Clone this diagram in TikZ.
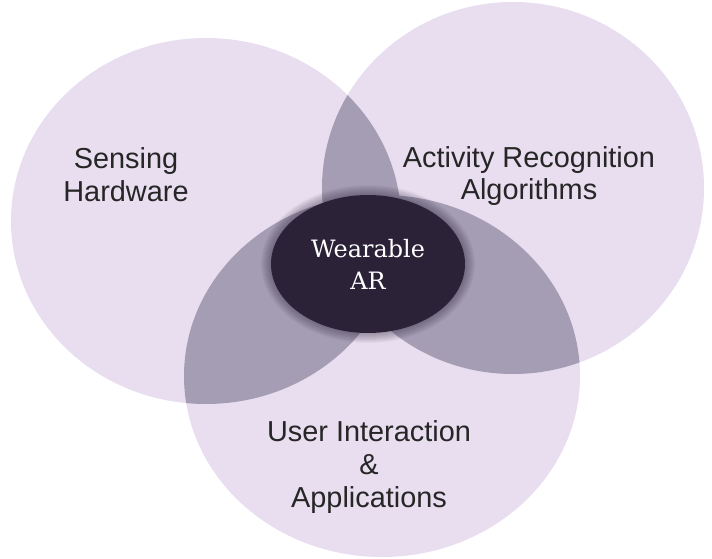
\documentclass[tikz,border=0pt]{standalone}
\usepackage{fontspec}
\setmainfont{Liberation Sans}
\newfontfamily\slabfont{DejaVu Serif}
\usepackage{tikz}
\usetikzlibrary{shapes.geometric}
\definecolor{lightlav}{HTML}{E8DEEF}
\definecolor{midlav}{HTML}{A49DB3}
\definecolor{darkplum}{HTML}{2B2238}

\tikzset{
  label/.style={font=\fontsize{29}{33}\selectfont, align=center, text=black!85},
  core/.style={ellipse, fill=darkplum, text=white, minimum width=194bp, minimum height=138bp,
    inner sep=0pt, align=center, font=\slabfont\fontsize{24}{32}\selectfont}
}

\begin{document}
\begin{tikzpicture}[x=1bp,y=-1bp]
        \useasboundingbox (0,0) rectangle (712,559);

        % the three circles
        \fill[lightlav] (206,221) ellipse (195 and 183);
        \fill[lightlav] (513,188) ellipse (191 and 186);
        \fill[lightlav] (382,376) ellipse (198 and 181);

        % pairwise overlaps
        \begin{scope}
          \clip (206,221) ellipse (195 and 183);
          \fill[midlav] (513,188) ellipse (191 and 186);
          \fill[midlav] (382,376) ellipse (198 and 181);
        \end{scope}
        \begin{scope}
          \clip (513,188) ellipse (191 and 186);
          \fill[midlav] (382,376) ellipse (198 and 181);
        \end{scope}

        % soft shadow round the centre
        \foreach \d in {1,...,10}
          \fill[darkplum,opacity=0.045] (368,264) ellipse ({97+\d} and {69+\d});
        \node[core] (wearable) at (368,264) {Wearable\\AR};

        \node[label] (sensing) at (126,175) {Sensing\\Hardware};
        \node[label] (activity) at (529,176) {Activity Recognition\\Algorithms};
        \node[label] (user) at (369,467) {User Interaction\\\&\\Applications};
    \end{tikzpicture}
\end{document}
